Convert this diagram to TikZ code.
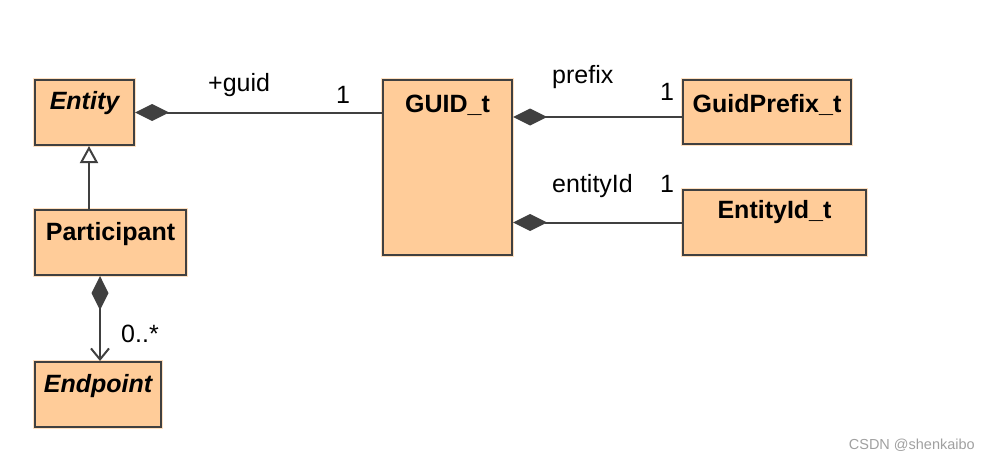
\documentclass[tikz,border=0pt]{standalone}
\usepackage{fontspec}
\setmainfont{Liberation Sans}
\usetikzlibrary{arrows.meta,calc}
\definecolor{boxfill}{HTML}{FFCC99}
\definecolor{boxhalo}{HTML}{FFE0C0}
\definecolor{linecol}{HTML}{404040}
\definecolor{wmark}{HTML}{A0A0A0}
\tikzset{
  umlbox/.style={draw=linecol, line width=2pt, fill=boxfill, inner sep=0pt,
    anchor=north west, preaction={draw=boxhalo, line width=4pt}},
  boxtitle/.style={anchor=base, inner sep=0pt, font=\fontsize{25}{28}\selectfont\bfseries},
  boxtitleit/.style={boxtitle, font=\fontsize{25}{28}\selectfont\bfseries\itshape},
  lbl/.style={anchor=base west, inner sep=0pt, font=\fontsize{25}{28}\selectfont},
  mult/.style={anchor=base, inner sep=0pt, font=\fontsize{25}{28}\selectfont},
  conn/.style={draw=linecol, line width=2pt},
  compo/.tip={Diamond[length=34pt,width=17pt,fill=linecol,color=linecol]},
}
\begin{document}
\begin{tikzpicture}[x=1pt,y=-1pt]
\useasboundingbox (0,0) rectangle (985,460);
% boxes
\node[umlbox, minimum width=99pt, minimum height=65pt] (entity) at (34,79) {};
\node[umlbox, minimum width=151pt, minimum height=65pt] (participant) at (34,209) {};
\node[umlbox, minimum width=126pt, minimum height=65pt] (endpoint) at (34,361) {};
\node[umlbox, minimum width=129pt, minimum height=175pt] (guid) at (382,79) {};
\node[umlbox, minimum width=168pt, minimum height=64pt] (prefix) at (682,79) {};
\node[umlbox, minimum width=183pt, minimum height=65pt] (entityid) at (682,189) {};
% titles
\node[boxtitleit] (entityT) at ([yshift=-31pt]entity.north) {Entity};
\node[boxtitle] (participantT) at ([yshift=-31pt]participant.north) {Participant};
\node[boxtitleit] (endpointT) at ([yshift=-31pt]endpoint.north) {Endpoint};
\node[boxtitle] (guidT) at ([yshift=-33pt]guid.north) {GUID\_t};
\node[boxtitle] (prefixT) at ([yshift=-33pt]prefix.north) {GuidPrefix\_t};
\node[boxtitle] (entityidT) at ([yshift=-29pt]entityid.north) {EntityId\_t};
% connectors
\draw[conn, compo-] (entity.east) -- (entity.east -| guid.west);
\coordinate (gp) at ($(guid.north east)+(0,38)$);
\draw[conn, compo-] (gp) -- (gp -| prefix.west);
\draw[conn, compo-] (entityid.west -| guid.east) -- (entityid.west);
\coordinate (pe) at ($(participant.south west)+(66,0)$);
\draw[conn, compo-{Straight Barb[length=11pt,width=18pt,color=linecol]}] (pe) -- (pe |- endpoint.north);
\coordinate (pi) at ($(participant.north west)+(55,0)$);
\draw[conn, -{Triangle[open,length=17pt,width=18pt,fill=white,color=linecol]}] (pi) -- (pi |- entity.south);
% labels
\node[lbl] (lguid) at (208,92) {+guid};
\node[mult] (m1) at (343,103) {1};
\node[lbl] (lprefix) at (552,83) {prefix};
\node[mult] (m2) at (667,100) {1};
\node[lbl] (lentityid) at (552,192) {entityId};
\node[mult] (m3) at (667,192) {1};
\node[lbl] (lmany) at (121,342) {0..*};
\node[anchor=base east, inner sep=0pt, text=wmark, font=\fontsize{14.5}{16}\selectfont] (wm) at (975,449) {CSDN @shenkaibo};
\end{tikzpicture}
\end{document}
